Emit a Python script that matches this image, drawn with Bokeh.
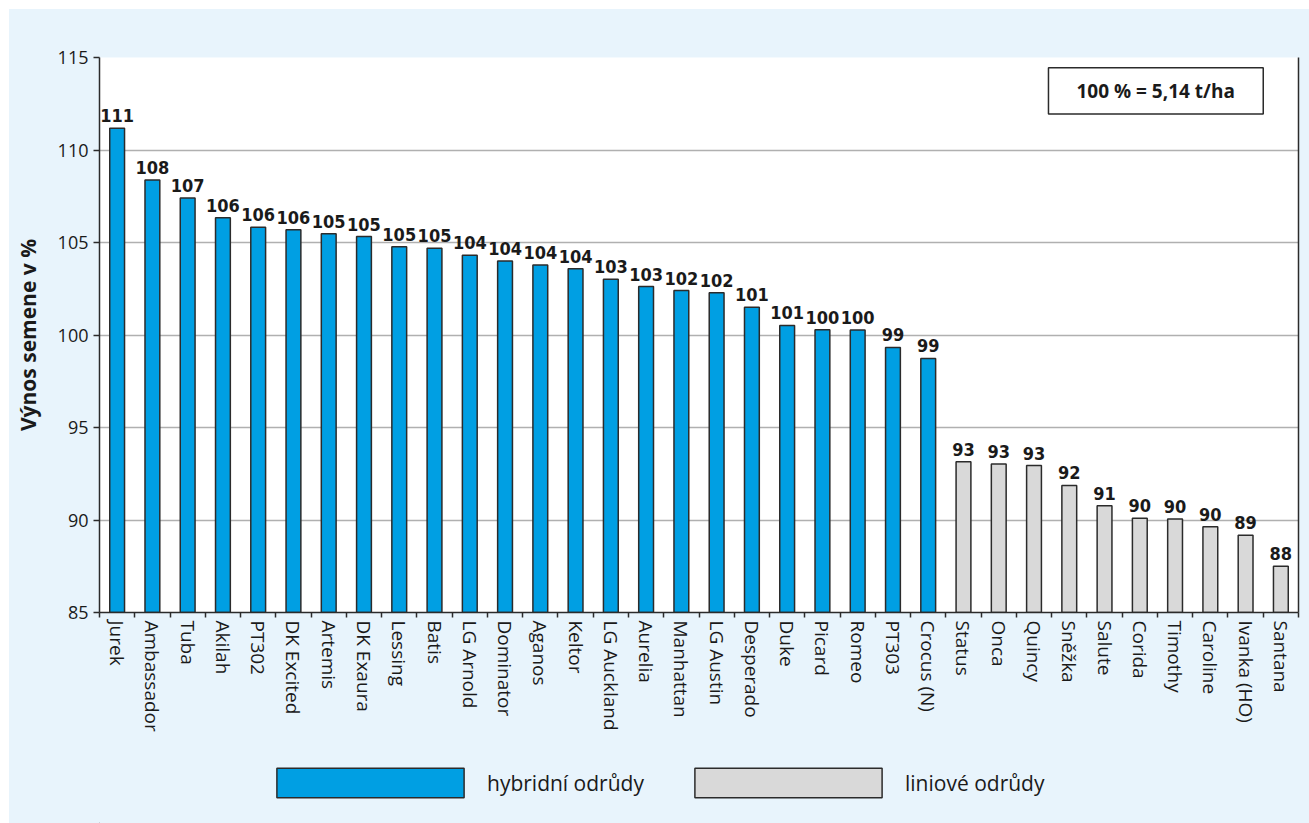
import math
from bokeh.plotting import figure
from bokeh.layouts import column
from bokeh.models import (Range1d, FixedTicker, LinearAxis, Legend, LegendItem,
                          ColumnDataSource, Label, BoxAnnotation)
from bokeh.core.properties import value
from bokeh.embed import file_html
from bokeh.resources import INLINE

# ---------------- data ----------------
hybrid_names = ["Jurek", "Ambassador", "Tuba", "Akilah", "PT302", "DK Excited", "Artemis",
                "DK Exaura", "Lessing", "Batis", "LG Arnold", "Dominator", "Aganos", "Keltor",
                "LG Auckland", "Aurelia", "Manhattan", "LG Austin", "Desperado", "Duke",
                "Picard", "Romeo", "PT303", "Crocus (N)"]
hybrid_values = [111.18, 108.38, 107.40, 106.34, 105.83, 105.69, 105.47, 105.32, 104.77,
                 104.69, 104.31, 104.00, 103.79, 103.58, 103.01, 102.62, 102.40, 102.29,
                 101.50, 100.52, 100.29, 100.27, 99.33, 98.73]
hybrid_labels = ["111", "108", "107", "106", "106", "106", "105", "105", "105", "105", "104",
                 "104", "104", "104", "103", "103", "102", "102", "101", "101", "100", "100",
                 "99", "99"]

line_names = ["Status", "Onca", "Quincy", "Sněžka", "Salute", "Corida", "Timothy",
              "Caroline", "Ivanka (HO)", "Santana"]
line_values = [93.15, 93.03, 92.94, 91.87, 90.77, 90.09, 90.05, 89.63, 89.17, 87.50]
line_labels = ["93", "93", "93", "92", "91", "90", "90", "90", "89", "88"]

y_ticks = [85, 90, 95, 100, 105, 110, 115]
y_title = "Výnos semene v %"
note_text = "100 % = 5,14 t/ha"
legend_labels = ["hybridní odrůdy", "liniové odrůdy"]

# ---------------- styling ----------------
BG = "#e8f4fc"
BLUE = "#009fe3"
GRAY = "#d9d9d9"
EDGE = "#2b2b2b"
FONT = "Open Sans"

names = hybrid_names + line_names
n = len(names)
xh = list(range(len(hybrid_names)))
xl = list(range(len(hybrid_names), n))

p = figure(width=1300, height=745, output_backend="svg", toolbar_location=None,
           x_range=Range1d(-0.5, n - 0.5), y_range=Range1d(85, 115),
           min_border_left=90, min_border_right=11, min_border_top=48,
           min_border_bottom=142)
p.background_fill_color = "white"
p.border_fill_color = BG
p.outline_line_color = None

src_h = ColumnDataSource(dict(x=xh, top=hybrid_values, label=hybrid_labels))
src_l = ColumnDataSource(dict(x=xl, top=line_values, label=line_labels))

r_h = p.vbar(x="x", top="top", bottom=85, width=0.42, source=src_h,
             fill_color=BLUE, line_color=EDGE, line_width=1.5)
r_l = p.vbar(x="x", top="top", bottom=85, width=0.42, source=src_l,
             fill_color=GRAY, line_color=EDGE, line_width=1.5)

for src in (src_h, src_l):
    p.text(x="x", y="top", text="label", source=src, text_align="center",
           text_baseline="bottom", y_offset=-6,
           text_font=value("DejaVu Sans Condensed"), text_font_style="bold",
           text_font_size="18px", text_color="#1a1a1a")

# grid
p.xgrid.grid_line_color = None
p.ygrid.ticker = FixedTicker(ticks=y_ticks)
p.ygrid.grid_line_color = "#b0b0b0"
p.ygrid.grid_line_width = 1.5

# x axis
xa = p.xaxis[0]
xa.ticker = FixedTicker(ticks=list(range(n)), minor_ticks=[i - 0.5 for i in range(n + 1)])
xa.major_label_overrides = {i: nm for i, nm in enumerate(names)}
xa.major_label_orientation = "vertical"
xa.major_tick_line_color = None
xa.major_tick_out = 5
xa.major_tick_in = 0
xa.minor_tick_out = 5
xa.minor_tick_in = 0
xa.minor_tick_line_color = EDGE
xa.minor_tick_line_width = 1.5
xa.major_label_standoff = 3
xa.major_label_text_font = FONT
xa.major_label_text_font_size = "19px"
xa.major_label_text_color = "#1a1a1a"
xa.axis_line_color = EDGE
xa.axis_line_width = 1.5

# y axis
ya = p.yaxis[0]
ya.ticker = FixedTicker(ticks=y_ticks)
ya.major_tick_out = 6
ya.major_tick_in = 0
ya.minor_tick_line_color = None
ya.major_tick_line_color = EDGE
ya.major_tick_line_width = 1.5
ya.axis_line_color = EDGE
ya.axis_line_width = 1.5
ya.major_label_text_font = FONT
ya.major_label_text_font_size = "18px"
ya.major_label_text_color = "#1a1a1a"
ya.major_label_standoff = 5
ya.axis_label = y_title
ya.axis_label_text_font = FONT
ya.axis_label_text_font_style = "bold"
ya.axis_label_text_font_size = "21px"
ya.axis_label_text_color = "#1a1a1a"
ya.axis_label_standoff = 13

# right border as axis line
ra = LinearAxis(ticker=FixedTicker(ticks=[]), major_label_text_font_size="0px",
                major_tick_out=0, major_tick_in=0, minor_tick_out=0, minor_tick_in=0,
                major_label_standoff=0, axis_line_color=EDGE, axis_line_width=1.5)
p.add_layout(ra, "right")

# note box
p.add_layout(BoxAnnotation(left=26.41, right=32.5, bottom=111.95, top=114.45,
                           fill_color="white", fill_alpha=1.0,
                           line_color=EDGE, line_alpha=1.0, line_width=1.5))
p.add_layout(Label(x=29.45, y=113.2, text=note_text, text_align="center",
                   text_baseline="middle", text_font=FONT, text_font_style="bold",
                   text_font_size="19px", text_color="#1a1a1a"))

# legend strip (separate figure so the legend is not clipped)
p2 = figure(width=1300, height=69, output_backend="svg", toolbar_location=None,
            x_range=Range1d(0, 1), y_range=Range1d(0, 1),
            min_border_left=0, min_border_right=0, min_border_top=0, min_border_bottom=0)
p2.axis.visible = False
p2.grid.visible = False
p2.outline_line_color = None
p2.background_fill_color = None
p2.border_fill_color = BG
# swatch renderers kept outside the visible ranges; only their legend glyphs show
lg_h = p2.vbar(x=[-50], top=[-50], bottom=-51, width=0.1,
               fill_color=BLUE, line_color=EDGE, line_width=1.5)
lg_l = p2.vbar(x=[-50], top=[-50], bottom=-51, width=0.1,
               fill_color=GRAY, line_color=EDGE, line_width=1.5)

legend = Legend(items=[LegendItem(label=legend_labels[0], renderers=[lg_h]),
                       LegendItem(label=legend_labels[1], renderers=[lg_l])],
                orientation="horizontal", glyph_width=234, glyph_height=37,
                label_standoff=0, label_width=184, spacing=0, padding=0,
                margin=0, location=(154, 22),
                border_line_color=None, background_fill_alpha=0,
                label_text_font=FONT, label_text_font_size="21px",
                label_text_color="#1a1a1a")
p2.add_layout(legend)

layout = column(p, p2, spacing=0, margin=(9, 0, 0, 9), styles={"background-color": BG})

open("out.html", "w").write(file_html(layout, INLINE))
